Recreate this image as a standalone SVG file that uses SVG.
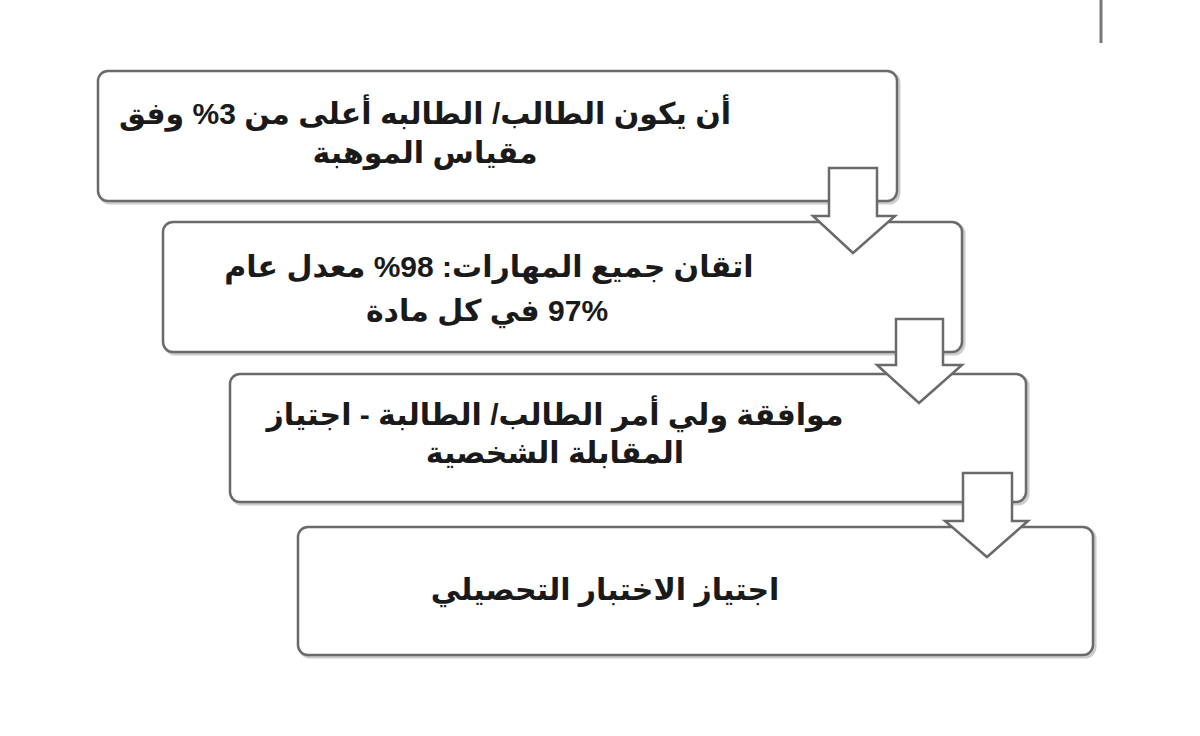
<svg xmlns="http://www.w3.org/2000/svg" width="1200" height="736" viewBox="0 0 1200 736">
<defs>
<style>
.box{fill:#ffffff;stroke:#6a6a6a;stroke-width:2.5}
.shadow{fill:none;stroke:#cccccc;stroke-width:3}
.arrow{fill:#ffffff;stroke:#6a6a6a;stroke-width:2.5;stroke-linejoin:miter}
.t{font-family:"Liberation Sans",Arial,"DejaVu Sans",sans-serif;font-weight:bold;font-size:30px;fill:#1a1a1a;text-anchor:middle}
</style>
</defs>
<rect width="1200" height="736" fill="#ffffff"/>
<line x1="1101" y1="0" x2="1101" y2="43" stroke="#777" stroke-width="3"/>

<g id="node1">
<rect class="shadow" x="100" y="73" width="799" height="130" rx="10"/>
<rect class="box" x="98" y="71" width="799" height="130" rx="10"/>
<text class="t" direction="rtl" x="425" y="124">أن يكون الطالب/ الطالبه أعلى من 3% وفق</text>
<text class="t" direction="rtl" x="425" y="163">مقياس الموهبة</text>
</g>
<g id="node2">
<rect class="shadow" x="165" y="224" width="799" height="130" rx="10"/>
<rect class="box" x="163" y="222" width="799" height="130" rx="10"/>
<text class="t" direction="rtl" x="489" y="277">اتقان جميع المهارات: 98% معدل عام</text>
<text class="t" direction="rtl" x="487" y="321">97% في كل مادة</text>
</g>
<g id="node3">
<rect class="shadow" x="232" y="376" width="796" height="128" rx="10"/>
<rect class="box" x="230" y="374" width="796" height="128" rx="10"/>
<text class="t" direction="rtl" x="555" y="425" font-size="29">موافقة ولي أمر الطالب/ الطالبة - اجتياز</text>
<text class="t" direction="rtl" x="555" y="463">المقابلة الشخصية</text>
</g>
<g id="node4">
<rect class="shadow" x="300" y="529" width="795" height="128" rx="10"/>
<rect class="box" x="298" y="527" width="795" height="128" rx="10"/>
<text class="t" direction="rtl" x="605" y="600" font-size="31">اجتياز الاختبار التحصيلي</text>
</g>

<g id="connectors">
<path class="arrow" d="M829,168 H877 V216 H895 L853,253 L813,216 H829 Z"/>
<path class="arrow" d="M896,319 H943 V365 H962 L919,403 L877,365 H896 Z"/>
<path class="arrow" d="M963,473 H1012 V521 H1028 L987,557 L945,521 H963 Z"/>
</g>
</svg>
